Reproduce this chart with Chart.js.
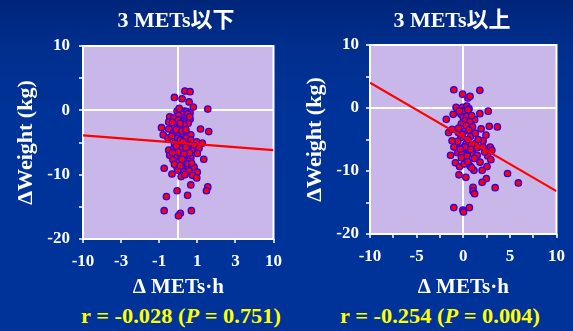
<!DOCTYPE html>
<html>
<head>
<meta charset="utf-8">
<script src="https://cdn.jsdelivr.net/npm/chart.js@4.4.1/dist/chart.umd.min.js"></script>
<style>
html,body{margin:0;padding:0;}
body{width:573px;height:331px;overflow:hidden;position:relative;
  background:linear-gradient(180deg,#00257a 0%,#002f8e 15%,#003399 35%,#003399 100%);
  font-family:"Liberation Serif",serif;}
canvas{position:absolute;top:0;}
#cLow{left:0;}
#cHigh{left:290px;}
.ctitle{position:absolute;top:8px;color:#ffffff;font-weight:bold;font-size:22px;line-height:24px;
  white-space:nowrap;transform:translateX(-50%);
  font-family:"Liberation Serif","Noto Sans CJK JP",serif;}
.rtext{position:absolute;top:305px;color:#ffff00;font-weight:bold;font-size:20px;
  white-space:nowrap;transform:translateX(-50%) scaleX(1.12);}
</style>
</head>
<body>
<canvas id="cLow" width="290" height="300"></canvas>
<canvas id="cHigh" width="283" height="300"></canvas>
<div class="ctitle" id="tLow" style="left:176px"></div>
<div class="ctitle" id="tHigh" style="left:452px"></div>
<div class="rtext" style="left:181px">r = -0.028 (<i>P</i> = 0.751)</div>
<div class="rtext" style="left:440px">r = -0.254 (<i>P</i> = 0.004)</div>
<script>
// --- data ---
const titles = ["3 METs以下", "3 METs以上"];

// 3 METs or less (x in METs·h, y in kg)
const lowX = [0.35,0.62,-0.20,0.20,0.57,0.79,1.55,-0.06,0.15,0.32,
  0.45,0.62,0.23,0.01,0.42,-0.45,-0.23,0.62,0.15,-0.50,
  0.40,0.52,-0.88,-0.20,0.06,0.28,-0.50,1.17,1.60,-0.28,
  0.06,-0.79,0.28,0.49,0.66,-0.54,-0.03,0.40,0.66,0.97,
  1.26,-0.20,0.06,0.32,0.57,0.83,1.09,-0.50,-0.23,0.15,
  0.45,0.74,1.00,-0.45,-0.11,0.15,0.45,0.66,-0.28,0.01,
  0.32,0.57,1.34,-0.74,-0.06,0.23,0.49,0.83,-0.03,0.32,
  0.57,1.00,-0.33,0.15,0.74,0.97,0.66,1.55,1.48,-0.06,
  0.49,-0.62,-0.74,0.11,0.01,0.69,
  0.00,0.30,-0.10,0.20,0.40,-0.35,0.10,0.25,-0.10,0.40,
  0.60,0.00,0.30,-0.30,0.20,0.50,-0.20,0.10,0.70,0.35,
  0.50,0.05,0.60,-0.30,0.10];
const lowY = [3.0,2.9,2.0,1.8,1.3,0.5,0.2,-0.1,-0.1,-0.1,
  -0.2,-0.4,-0.6,-0.8,-0.9,-1.0,-1.2,-1.4,-1.7,-1.8,
  -1.8,-2.0,-2.7,-2.5,-2.5,-2.5,-2.9,-2.9,-3.3,-3.6,
  -3.7,-3.8,-3.7,-3.8,-3.8,-4.3,-4.3,-4.3,-4.6,-4.9,
  -5.1,-5.1,-5.3,-5.4,-5.4,-5.5,-5.9,-6.2,-5.9,-6.0,
  -6.2,-6.3,-6.7,-7.0,-7.2,-7.2,-7.2,-7.4,-7.7,-8.0,
  -7.9,-7.9,-7.6,-9.0,-8.9,-9.0,-8.9,-8.8,-9.3,-9.5,
  -9.4,-9.6,-9.9,-10.3,-10.1,-10.5,-11.6,-11.9,-12.5,-12.5,
  -13.2,-13.4,-15.6,-16.0,-16.4,-15.6,
  -1.5,-2.2,-3.0,-3.2,-3.0,-4.0,-4.6,-4.9,-5.6,-5.8,
  -6.6,-6.5,-6.8,-6.6,-7.6,-8.3,-8.4,-8.6,-8.2,-10.0,
  -0.6,0.3,-1.0,-1.9,-2.0];
const lowFitX = [-10, 10];
const lowFitY = [-3.9, -6.2];

// more than 3 METs
const highX = [-1.01,-0.07,0.50,0.73,1.78,-0.77,-0.07,0.38,0.62,0.10,
  -1.82,-1.08,-0.25,0.45,1.22,1.78,2.68,-1.57,-1.19,-0.53,
  0.10,1.92,2.79,3.66,2.44,0.80,-0.25,0.28,2.13,1.33,
  -0.74,0.03,0.45,2.13,2.89,3.07,-1.36,-0.60,-0.18,0.62,
  1.08,1.50,2.62,2.96,-0.84,-0.39,0.10,0.73,1.15,2.02,
  2.55,-0.46,0.28,2.48,2.02,3.42,1.05,1.05,1.22,4.75,
  5.91,-1.01,0.66,-0.04,0.03,
  0.2,0.5,-0.4,0.0,0.4,0.9,0.2,0.7,-0.2,0.3,
  1.0,-0.5,0.6,1.3,-0.1,0.5,-0.6,0.9,0.2,-0.3,
  0.8,1.5,0.4,1.2,0.5,-0.2,1.8,2.3,0.9,-1.0,
  -1.2,1.6];
const highY = [2.9,2.2,1.6,1.85,2.8,0.1,0.1,0.3,-0.1,-0.4,
  -1.8,-1.0,-1.0,-1.2,-1.85,-0.9,-0.5,-3.9,-3.4,-3.9,
  -3.7,-3.3,-2.9,-3.0,-4.3,-4.5,-4.7,-5.7,-5.2,-5.6,
  -6.1,-6.2,-6.5,-6.2,-6.2,-6.7,-7.5,-7.1,-7.25,-7.0,
  -7.35,-7.5,-7.6,-8.2,-8.7,-9.3,-8.9,-9.2,-9.9,-9.9,
  -9.3,-10.6,-11.0,-11.2,-11.8,-12.65,-12.6,-13.2,-13.6,-10.4,
  -11.9,-15.8,-15.8,-16.2,-16.5,
  -0.5,-0.3,-0.5,-1.5,-1.3,-1.2,-2.0,-2.2,-2.5,-2.8,
  -3.0,-3.2,-3.5,-4.0,-4.2,-5.0,-5.3,-5.8,-6.2,-6.5,
  -6.6,-6.3,-7.6,-8.0,-8.5,-7.9,-8.6,-7.0,-9.5,-6.2,
  -5.2,-5.0];
const highFitX = [-10, 10];
const highFitY = [4.0, -13.2];

// tick labels
const lowXTicks = [-10, -3, -1, 1, 3, 10];
const highXTicks = [-10, -5, 0, 5, 10];
const yTicks = [-20, -10, 0, 10];

// left chart x axis is stretched: 1 -> 0.5, 3 -> 1.5, 10 -> 2.5
const knotV = [0, 1, 3, 10];
const knotU = [0, 0.5, 1.5, 2.5];
function toAxis(v) {
  const a = Math.abs(v), s = v < 0 ? -1 : 1;
  for (let i = 1; i < knotV.length; i++) {
    if (a <= knotV[i] || i === knotV.length - 1) {
      const t = (a - knotV[i-1]) / (knotV[i] - knotV[i-1]);
      return s * (knotU[i-1] + t * (knotU[i] - knotU[i-1]));
    }
  }
}
function fromAxis(u) {
  const a = Math.abs(u), s = u < 0 ? -1 : 1;
  for (let i = 1; i < knotU.length; i++) {
    if (a <= knotU[i] + 1e-9) {
      const t = (a - knotU[i-1]) / (knotU[i] - knotU[i-1]);
      return s * (knotV[i-1] + t * (knotV[i] - knotV[i-1]));
    }
  }
  return s * knotV[knotV.length - 1];
}

document.getElementById("tLow").textContent = titles[0];
document.getElementById("tHigh").textContent = titles[1];

const serif = "'Liberation Serif', 'Times New Roman', serif";

const plotFrame = {
  id: "plotFrame",
  beforeDraw(chart) {
    const { ctx, chartArea: a } = chart;
    ctx.save();
    ctx.fillStyle = "#cab7e9";
    ctx.fillRect(a.left, a.top, a.width, a.height);
    ctx.restore();
  },
  beforeDatasetsDraw(chart) {
    const { ctx, chartArea: a } = chart;
    ctx.save();
    ctx.strokeStyle = "#ffffff";
    ctx.lineWidth = 2;
    ctx.strokeRect(a.left, a.top, a.width, a.height);
    ctx.restore();
  }
};

function makeChart(id, opt) {
  return new Chart(document.getElementById(id), {
    type: "scatter",
    data: {
      datasets: [
        {
          data: opt.fitX.map((x, i) => ({ x: opt.mapX(x), y: opt.fitY[i] })),
          showLine: true,
          borderColor: "#ff0000",
          borderWidth: 2.2,
          pointRadius: 0,
          order: 0
        },
        {
          data: opt.xs.map((x, i) => ({ x: opt.mapX(x), y: opt.ys[i] })),
          backgroundColor: "#ff0000",
          borderColor: "#2a00ee",
          borderWidth: 1.3,
          pointRadius: 3.2,
          order: 1
        }
      ]
    },
    options: {
      responsive: false,
      animation: false,
      devicePixelRatio: 1,
      layout: { padding: { left: 0, right: 12, top: opt.plotTop, bottom: 0 } },
      plugins: {
        legend: { display: false },
        tooltip: { enabled: false },
        title: { display: false }
      },
      scales: {
        x: {
          type: "linear",
          min: opt.xMin, max: opt.xMax,
          afterBuildTicks: opt.xTicks,
          afterFit: s => { s.height = 300 - opt.plotBottom; },
          border: { display: false },
          grid: {
            color: c => (c.tick && c.tick.value === 0 ? "#ffffff" : "rgba(0,0,0,0)"),
            lineWidth: 2,
            tickColor: c => (opt.noZeroMark && c.tick && c.tick.value === 0 ? "rgba(0,0,0,0)" : "#ffffff"),
            tickLength: 4,
            tickWidth: 1.5
          },
          ticks: {
            color: "#ffffff",
            padding: 8,
            maxRotation: 0,
            autoSkip: false,
            font: { family: serif, size: 17, weight: "bold" },
            callback: opt.xLabel
          },
          title: {
            display: true,
            text: "Δ METs·h",
            color: "#ffffff",
            font: { family: serif, size: 21, weight: "bold" },
            padding: { top: 0, bottom: 0 }
          }
        },
        y: {
          min: -20, max: 10,
          afterFit: s => { s.width = opt.plotLeft; },
          border: { display: false },
          grid: {
            color: c => (c.tick && c.tick.value === 0 ? "#ffffff" : "rgba(0,0,0,0)"),
            lineWidth: 2,
            tickColor: "#ffffff",
            tickLength: 4,
            tickWidth: 1.5
          },
          ticks: {
            stepSize: 5,
            color: "#ffffff",
            padding: opt.yPad,
            font: { family: serif, size: 17, weight: "bold" },
            callback: v => (yTicks.includes(v) ? String(v) : "")
          },
          title: {
            display: true,
            text: "ΔWeight (kg)",
            color: "#ffffff",
            font: { family: serif, size: 22, weight: "bold" },
            padding: { top: opt.yTitlePad, bottom: 0 }
          }
        }
      }
    },
    plugins: [plotFrame]
  });
}

makeChart("cLow", {
  xs: lowX, ys: lowY, fitX: lowFitX, fitY: lowFitY,
  mapX: toAxis,
  xMin: toAxis(-10), xMax: toAxis(10),
  xTicks: s => {
    const vals = lowXTicks.map(toAxis).concat([0]).sort((a, b) => a - b);
    s.ticks = vals.map(v => ({ value: v }));
  },
  xLabel: v => (v === 0 ? "" : String(Math.round(fromAxis(v)))),
  noZeroMark: true,
  plotLeft: 83, plotTop: 46, plotBottom: 239,
  yPad: 9, yTitlePad: 13
});

makeChart("cHigh", {
  xs: highX, ys: highY, fitX: highFitX, fitY: highFitY,
  mapX: v => v,
  xMin: -10, xMax: 10,
  xTicks: s => {
    const vals = [];
    for (let v = -10; v <= 10; v += 2.5) vals.push(v);
    s.ticks = vals.map(v => ({ value: v }));
  },
  xLabel: v => (highXTicks.includes(v) ? String(v) : ""),
  noZeroMark: false,
  plotLeft: 80, plotTop: 45, plotBottom: 234,
  yPad: 7, yTitlePad: 12
});
</script>
</body>
</html>
